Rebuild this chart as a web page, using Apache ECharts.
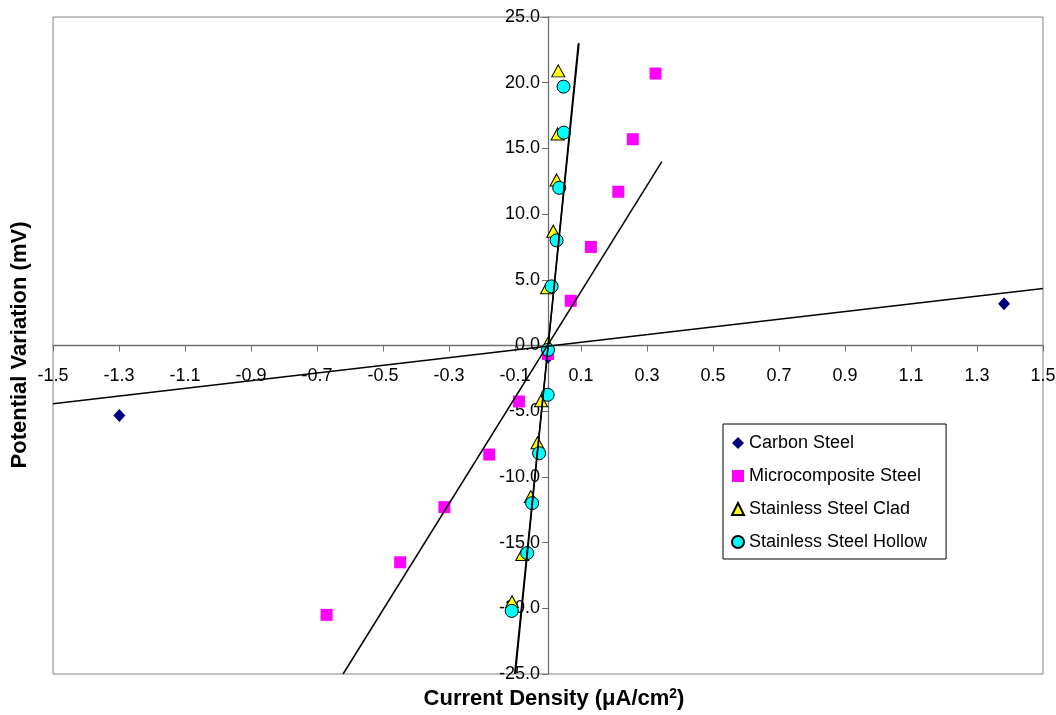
<!DOCTYPE html>
<html>
<head>
<meta charset="utf-8">
<script src="https://cdn.jsdelivr.net/npm/echarts@6/dist/echarts.min.js"></script>
<style>
html,body{margin:0;padding:0;background:#fff;}
#chart{width:1056px;height:715px;}
</style>
</head>
<body>
<div id="chart"></div>
<script>
// ---- data ----
var seriesNames = ['Carbon Steel', 'Microcomposite Steel', 'Stainless Steel Clad', 'Stainless Steel Hollow'];

var carbonX = [-1.299, 0.0, 1.382];
var carbonY = [-5.32, -0.9, 3.17];

var microX = [-0.671, -0.448, -0.314, -0.178, -0.088, 0.0, 0.069, 0.130, 0.213, 0.257, 0.326];
var microY = [-20.5, -16.5, -12.3, -8.3, -4.26, -0.65, 3.4, 7.5, 11.7, 15.7, 20.7];

var cladX = [-0.109, -0.078, -0.052, -0.032, -0.021, -0.001, -0.003, 0.016, 0.026, 0.029, 0.031];
var cladY = [-19.5, -15.9, -11.5, -7.4, -4.2, 0.13, 4.4, 8.7, 12.6, 16.1, 20.9];

var hollowX = [-0.110, -0.063, -0.048, -0.027, -0.001, 0.0, 0.011, 0.026, 0.034, 0.048, 0.047];
var hollowY = [-20.2, -15.8, -12.0, -8.2, -3.75, -0.33, 4.5, 8.0, 12.0, 16.2, 19.7];

// trend line end points (x, y)
var carbonTrendX = [-1.5, 1.5];
var carbonTrendY = [-4.43, 4.33];
var microTrendX = [-0.621, 0.345];
var microTrendY = [-25.0, 14.0];
var cladTrendX = [-0.101, 0.094];
var cladTrendY = [-25.0, 23.0];
var hollowTrendX = [-0.099, 0.092];
var hollowTrendY = [-25.0, 23.0];

// axes
var xMin = -1.5, xMax = 1.5, xStep = 0.2;
var yMin = -25, yMax = 25, yStep = 5;

function pairs(xs, ys) { return xs.map(function (x, i) { return [x, ys[i]]; }); }

var FONT = '"Liberation Sans", Arial, sans-serif';

// grid geometry (pixels)
var G = { left: 53, right: 13, top: 17, bottom: 41 };
var W = 1056, H = 715;
var plotW = W - G.left - G.right, plotH = H - G.top - G.bottom;
// axes cross at zero: offset the axes inward to the zero position
var yAxisOffset = -plotW * (0 - xMin) / (xMax - xMin);
var xAxisOffset = -plotH * (0 - yMin) / (yMax - yMin);

var chart = echarts.init(document.getElementById('chart'), null, { renderer: 'canvas' });

function trend(xs, ys) {
  return {
    type: 'line',
    data: pairs(xs, ys),
    showSymbol: false,
    symbol: 'none',
    silent: true,
    clip: true,
    z: 5,
    lineStyle: { color: '#000', width: 1.5 },
    animation: false
  };
}

var option = {
  animation: false,
  backgroundColor: '#fff',
  grid: {
    left: G.left, right: G.right, top: G.top, bottom: G.bottom,
    containLabel: false, outerBoundsMode: 'none',
    show: true, borderColor: '#808080', borderWidth: 1, backgroundColor: 'transparent'
  },
  xAxis: {
    type: 'value', position: 'bottom', offset: xAxisOffset,
    min: xMin, max: xMax, interval: xStep,
    axisLine: { onZero: false, lineStyle: { color: '#707070', width: 1.3 } },
    axisTick: { show: true, length: 6, lineStyle: { color: '#707070' } },
    splitLine: { show: false },
    axisLabel: {
      interval: 0, margin: 22, color: '#000', fontSize: 18, fontFamily: FONT,
      showMinLabel: true, showMaxLabel: true, hideOverlap: false,
      formatter: function (v) { return (Math.round(v * 10) / 10).toFixed(1); }
    }
  },
  yAxis: {
    type: 'value', position: 'left', offset: yAxisOffset,
    min: yMin, max: yMax, interval: yStep,
    axisLine: { show: true, onZero: false, lineStyle: { color: '#707070', width: 1.3 } },
    axisTick: { show: true, length: 6, lineStyle: { color: '#707070' } },
    splitLine: { show: false },
    axisLabel: {
      margin: 8, color: '#000', fontSize: 18, fontFamily: FONT,
      showMinLabel: true, showMaxLabel: true, hideOverlap: false,
      formatter: function (v) { return v.toFixed(1); }
    }
  },
  legend: {
    data: seriesNames,
    orient: 'vertical',
    left: 723, top: 424,
    backgroundColor: '#fff',
    borderColor: '#000', borderWidth: 1,
    padding: [9, 19, 7, 8],
    itemWidth: 12, itemHeight: 12,
    itemGap: 13,
    textStyle: { fontSize: 18, fontFamily: FONT, color: '#000', lineHeight: 20 },
    selectedMode: false
  },
  graphic: [
    {
      type: 'text', x: 20, y: 345, rotation: Math.PI / 2,
      style: { text: 'Potential Variation (mV)', font: 'bold 22px ' + FONT, fill: '#000', align: 'center', verticalAlign: 'middle' }
    },
    {
      type: 'text', x: 554, y: 699,
      style: {
        text: 'Current Density (\u03bcA/cm{sup|2})',
        font: 'bold 22px ' + FONT, fill: '#000', align: 'center', verticalAlign: 'middle',
        rich: { sup: { font: 'bold 14px ' + FONT, fill: '#000', padding: [0, 0, 10, 0] } }
      }
    }
  ],
  series: [
    {
      name: seriesNames[0], type: 'scatter', data: pairs(carbonX, carbonY),
      symbol: 'diamond', symbolSize: [12, 13], z: 2,
      itemStyle: { color: '#000080', opacity: 1 }
    },
    {
      name: seriesNames[1], type: 'scatter', data: pairs(microX, microY),
      symbol: 'rect', symbolSize: 12, z: 2,
      itemStyle: { color: '#FF00FF', opacity: 1 }
    },
    {
      name: seriesNames[2], type: 'scatter', data: pairs(cladX, cladY),
      symbol: 'triangle', symbolSize: [13, 12], z: 2,
      itemStyle: { color: '#FFFF00', borderColor: '#000', borderWidth: 1, opacity: 1 }
    },
    {
      name: seriesNames[3], type: 'scatter', data: pairs(hollowX, hollowY),
      symbol: 'circle', symbolSize: 13, z: 2,
      itemStyle: { color: '#00FFFF', borderColor: '#000', borderWidth: 1, opacity: 1 }
    },
    trend(carbonTrendX, carbonTrendY),
    trend(microTrendX, microTrendY),
    trend(cladTrendX, cladTrendY),
    trend(hollowTrendX, hollowTrendY)
  ]
};

chart.setOption(option);
</script>
</body>
</html>
